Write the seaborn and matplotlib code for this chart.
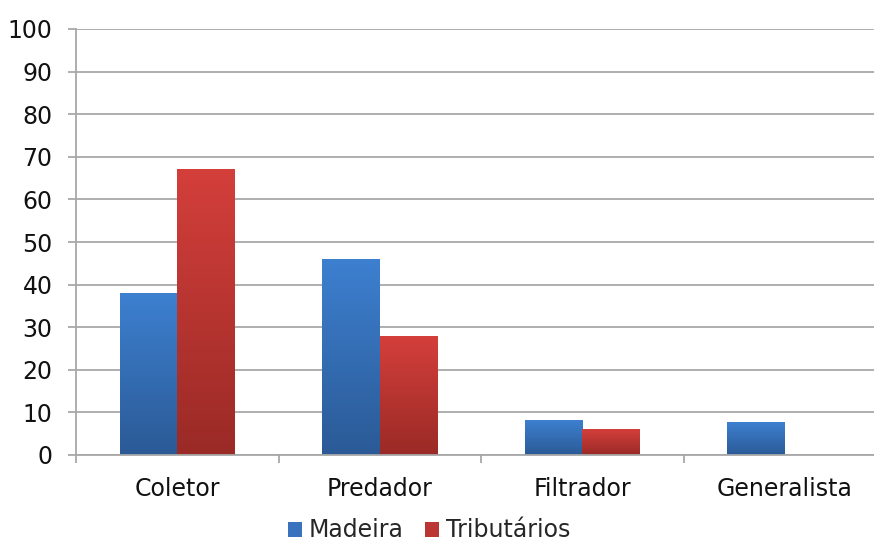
import matplotlib
matplotlib.use("Agg")
import matplotlib.pyplot as plt
import seaborn as sns
import pandas as pd
import numpy as np
from matplotlib.colors import LinearSegmentedColormap
from matplotlib.patches import Patch

categories = ["Coletor", "Predador", "Filtrador", "Generalista"]
madeira = [38, 46, 8, 7.7]
tributarios = [67, 27.8, 6.1, 0]
series_names = ["Madeira", "Tributários"]
yticks = [0, 10, 20, 30, 40, 50, 60, 70, 80, 90, 100]

df = pd.DataFrame({
    "cat": categories * 2,
    "serie": [series_names[0]] * 4 + [series_names[1]] * 4,
    "val": madeira + tributarios,
})

sns.set_theme(style="white")
plt.rcParams["font.family"] = ["DejaVu Sans"]

grad = {
    "Madeira": ("#3d80d0", "#2b5a96"),
    "Tributários": ("#d43f3b", "#9a2a26"),
}
mid = {"Madeira": "#3a72bd", "Tributários": "#bb3632"}

fig = plt.figure(figsize=(8.74, 5.44), dpi=100)
ax = fig.add_axes([76 / 874, 89 / 544, (886 - 76) / 874, (455 - 29) / 544])

sns.barplot(data=df, x="cat", y="val", hue="serie", order=categories,
            hue_order=series_names, palette=mid, width=0.567,
            ax=ax, legend=False, saturation=1, edgecolor="none")

# gradient fills over bars
n = len(categories)
for i, patch in enumerate(ax.patches):
    s = series_names[i // n]
    x0 = patch.get_x()
    w = patch.get_width()
    h = patch.get_height()
    if h <= 0:
        continue
    cmap = LinearSegmentedColormap.from_list("g", [grad[s][1], grad[s][0]])
    g = np.linspace(0, 1, 256).reshape(-1, 1)
    ax.imshow(g, cmap=cmap, origin="lower", aspect="auto",
              extent=[x0, x0 + w, 0, h], zorder=patch.get_zorder() + 0.1)

ax.set_xlim(-0.5, 3.5)
ax.set_ylim(0, 100)
ax.set_yticks(yticks)
ax.set_yticklabels([str(t) for t in yticks])
ax.set_xlabel("")
ax.set_ylabel("")

gc = "#a8a8a8"
ax.yaxis.grid(True, color=gc, linewidth=1.3)
ax.set_axisbelow(True)
for sp in ["top", "right"]:
    ax.spines[sp].set_visible(False)
for sp in ["left", "bottom"]:
    ax.spines[sp].set_color(gc)
    ax.spines[sp].set_linewidth(1.3)

ax.tick_params(axis="y", which="major", direction="out", length=6, width=1.3,
               color=gc, labelsize=17, pad=11, labelcolor="#111111", left=True)
ax.set_xticks(np.arange(-0.5, 4.0, 1.0), minor=True)
ax.tick_params(axis="x", which="minor", direction="out", length=6, width=1.3,
               color=gc, bottom=True)
ax.tick_params(axis="x", which="major", length=0, labelsize=17, pad=16,
               labelcolor="#111111")

handles = [Patch(facecolor=mid[s], edgecolor="none", label=s) for s in series_names]
fig.legend(handles=handles, loc="lower center", bbox_to_anchor=(429 / 874, -0.036),
           ncol=2, frameon=False, fontsize=17, handlelength=0.6, handleheight=0.6,
           handletextpad=0.3, columnspacing=0.9)

fig.savefig("out.png", dpi=100)
